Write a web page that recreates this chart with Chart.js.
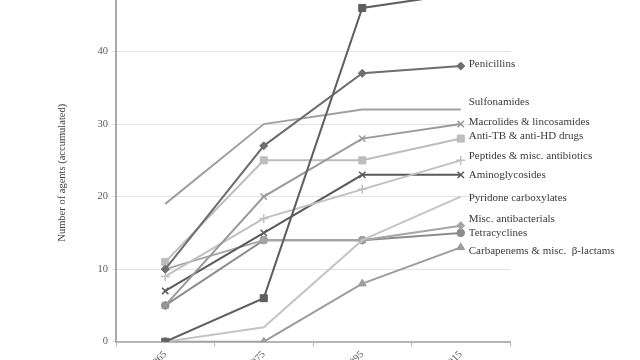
<!DOCTYPE html>
<html>
<head>
<meta charset="utf-8">
<script src="https://cdn.jsdelivr.net/npm/chart.js@4.4.1/dist/chart.umd.min.js"></script>
<style>
  html, body { margin: 0; padding: 0; background: #fff; overflow: hidden; width: 640px; height: 360px; }
  #wrap { position: absolute; left: 0; top: -40px; width: 640px; height: 440px; }
</style>
</head>
<body>
<div id="wrap"><canvas id="c"></canvas></div>
<script>
// ---- data ----
const years = ["1965", "1975", "1995", "2015"];
const seriesNames = [
  "Cephalosporins",
  "Penicillins",
  "Sulfonamides",
  "Macrolides & lincosamides",
  "Anti-TB & anti-HD drugs",
  "Peptides & misc. antibiotics",
  "Aminoglycosides",
  "Pyridone carboxylates",
  "Misc. antibacterials",
  "Tetracyclines",
  "Carbapenems & misc.  \u03B2-lactams"
];
const cephalosporins = [0, 6, 46, 48];
const penicillins    = [10, 27, 37, 38];
const sulfonamides   = [19, 30, 32, 32];
const macrolides     = [5, 20, 28, 30];
const antiTB         = [11, 25, 25, 28];
const peptides       = [9, 17, 21, 25];
const aminoglycosides= [7, 15, 23, 23];
const pyridones      = [0, 2, 14, 20];
const miscAntibact   = [10, 14, 14, 16];
const tetracyclines  = [5, 14, 14, 15];
const carbapenems    = [0, 0, 8, 13];
const yTicks = [0, 10, 20, 30, 40, 50];
const yTitle = "Number of agents (accumulated)";

// ---- styles ----
const seriesValues = [cephalosporins, penicillins, sulfonamides, macrolides, antiTB, peptides,
  aminoglycosides, pyridones, miscAntibact, tetracyclines, carbapenems];
const styles = [
  { c: '#5f5f5f', p: 'rect',     r: 5,   lab: false, dy: 0 },
  { c: '#6e6e6e', p: 'rectRot',  r: 4,   lab: true,  dy: -2 },
  { c: '#a0a0a0', p: false,      r: 0,   lab: true,  dy: -7 },
  { c: '#9a9a9a', p: 'crossRot', r: 4.5, lab: true,  dy: -2 },
  { c: '#bdbdbd', p: 'rect',     r: 5,   lab: true,  dy: -2 },
  { c: '#c0c0c0', p: 'cross',    r: 4.5, lab: true,  dy: -4 },
  { c: '#5a5a5a', p: 'crossRot', r: 4.5, lab: true,  dy: 0 },
  { c: '#c4c4c4', p: false,      r: 0,   lab: true,  dy: 1 },
  { c: '#a5a5a5', p: 'rectRot',  r: 4,   lab: true,  dy: -7 },
  { c: '#8c8c8c', p: 'circle',   r: 3.8, lab: true,  dy: 0 },
  { c: '#9d9d9d', p: 'triangle', r: 4.5, lab: true,  dy: 4 }
];

const datasets = seriesNames.map((name, i) => ({
  label: name,
  data: seriesValues[i],
  borderColor: styles[i].c,
  backgroundColor: styles[i].c,
  borderWidth: 2,
  pointStyle: styles[i].p,
  pointRadius: styles[i].r,
  pointBorderWidth: (styles[i].p === 'crossRot' || styles[i].p === 'cross') ? 1.5 : 1,
  pointBorderColor: styles[i].c,
  pointBackgroundColor: styles[i].c,
  tension: 0,
  fill: false,
  _lab: styles[i].lab,
  _dy: styles[i].dy
}));

const serif = "'Liberation Serif', 'DejaVu Serif', serif";

const endLabels = {
  id: 'endLabels',
  afterDatasetsDraw(chart) {
    const ctx = chart.ctx;
    ctx.save();
    ctx.font = "11px " + serif;
    ctx.fillStyle = '#3a3a3a';
    ctx.textBaseline = 'middle';
    ctx.textAlign = 'left';
    chart.data.datasets.forEach((ds, i) => {
      if (!ds._lab) return;
      const meta = chart.getDatasetMeta(i);
      const pt = meta.data[meta.data.length - 1];
      ctx.fillText(ds.label, pt.x + 8, pt.y + ds._dy);
    });
    // y axis title
    const ya = chart.scales.y;
    ctx.translate(62, ya.getPixelForValue(0) - 169);
    ctx.rotate(-Math.PI / 2);
    ctx.textAlign = 'center';
    ctx.font = "10.5px " + serif;
    ctx.fillStyle = '#404040';
    ctx.fillText(yTitle, 0, 0);
    ctx.restore();
  }
};

new Chart(document.getElementById('c'), {
  type: 'line',
  data: { labels: years, datasets },
  options: {
    responsive: true,
    maintainAspectRatio: false,
    animation: false,
    layout: { padding: { left: 52, right: 130, top: 19, bottom: 0 } },
    plugins: { legend: { display: false }, tooltip: { enabled: false } },
    scales: {
      x: {
        offset: true,
        grid: { offset: true, drawOnChartArea: false, drawTicks: true, tickLength: 5, color: '#bbbbbb', lineWidth: 1 },
        border: { color: '#b5b5b5', width: 2 },
        ticks: { maxRotation: 45, minRotation: 45, font: { family: serif, size: 10 }, color: '#5a5a5a', padding: 2 },
        afterFit: s => { s.height = 58.3; }
      },
      y: {
        min: 0, max: 50,
        afterBuildTicks: s => { s.ticks = yTicks.map(v => ({ value: v })); },
        grid: { color: '#e2e2e2', lineWidth: 1, tickLength: 4, drawTicks: true },
        border: { color: '#a8a8a8', width: 2 },
        ticks: { font: { family: serif, size: 10.5 }, color: '#5a5a5a', padding: 4 },
        afterFit: s => { s.width = 64; }
      }
    }
  },
  plugins: [endLabels]
});
</script>
</body>
</html>
